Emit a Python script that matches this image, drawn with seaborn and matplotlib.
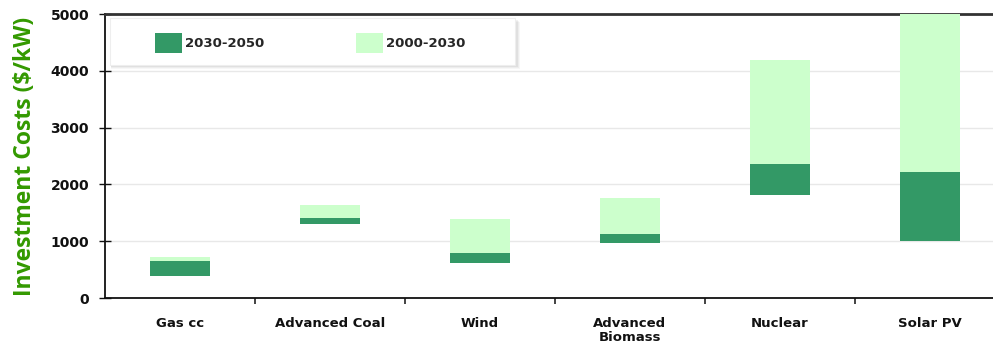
import matplotlib
matplotlib.use("Agg")
import matplotlib.pyplot as plt
from matplotlib.patches import Patch, Rectangle
import seaborn as sns
import pandas as pd
import numpy as np

# Investment cost ranges ($/kW) per technology
technologies = ["Gas cc", "Advanced Coal", "Wind", "Advanced\nBiomass", "Nuclear", "Solar PV"]
cost_low = [390, 1310, 620, 960, 1820, 1010]        # bottom of the 2030-2050 range
cost_mid = [650, 1410, 790, 1130, 2360, 2220]       # top of 2030-2050 / bottom of 2000-2030
cost_high = [720, 1640, 1390, 1760, 4190, 5000]     # top of the 2000-2030 range
yticks = [0, 1000, 2000, 3000, 4000, 5000]

dark = "#339966"
light = "#ccffcc"

df = pd.DataFrame({
    "tech": technologies,
    "low": cost_low,
    "mid": cost_mid,
    "high": cost_high,
})
df["span_late"] = df["mid"] - df["low"]
df["span_early"] = df["high"] - df["mid"]

sns.set_theme(style="white")
plt.rcParams["font.family"] = ["DejaVu Sans"]

fig = plt.figure(figsize=(9.93, 3.47), dpi=100)
ax = fig.add_axes([105 / 993, 49 / 347, 900 / 993, 284 / 347])

sns.barplot(data=df, x="tech", y="span_late", bottom=df["low"].to_numpy(),
            color=dark, saturation=1, width=0.4, errorbar=None, ax=ax,
            linewidth=0, zorder=3)
sns.barplot(data=df, x="tech", y="span_early", bottom=df["mid"].to_numpy(),
            color=light, saturation=1, width=0.4, errorbar=None, ax=ax,
            linewidth=0, zorder=3)

ax.set_xlim(-0.5, len(technologies) - 0.5)
ax.set_ylim(0, 5000)
ax.set_yticks(yticks)
ax.set_yticklabels([str(v) for v in yticks], fontsize=10, fontweight="bold", color="#111111")
ax.yaxis.grid(True, color="#e8e8e8", linewidth=1, zorder=0)
ax.tick_params(axis="y", direction="inout", length=9, width=1, color="#111111", pad=7, left=True)

ax.set_xticks(range(len(technologies)))
ax.set_xticklabels(technologies, fontsize=9.5, fontweight="bold", color="#111111", linespacing=1.1)
ax.tick_params(axis="x", which="major", length=0, pad=14)
ax.set_xticks(np.arange(0.5, len(technologies) - 0.5, 1), minor=True)
ax.tick_params(axis="x", which="minor", direction="out", length=4, width=1.2, color="#222222", bottom=True)
ax.set_xlabel("")

ax.set_ylabel("Investment Costs ($/kW)", fontsize=16.5, fontweight="bold",
              color="#339900", family=["Open Sans", "DejaVu Sans"], labelpad=10)

for side in ["left", "bottom"]:
    ax.spines[side].set_color("#111111")
    ax.spines[side].set_linewidth(1.3)
ax.spines["top"].set_color("#333333")
ax.spines["top"].set_linewidth(2)
ax.spines["right"].set_visible(False)

# Legend panel with a soft drop shadow
box_x0, box_x1 = 5 / 900, 410 / 900
box_y0, box_y1 = 233 / 284, 280 / 284
for i, a in enumerate([0.03, 0.04, 0.05, 0.06]):
    off = (4 - i) / 900, (4 - i) / 284
    ax.add_patch(Rectangle((box_x0 + off[0] * 0.3, box_y0 - off[1]),
                           box_x1 - box_x0 + off[0], box_y1 - box_y0,
                           transform=ax.transAxes, facecolor="black", alpha=a,
                           edgecolor="none", zorder=4, clip_on=False))
ax.add_patch(Rectangle((box_x0, box_y0), box_x1 - box_x0, box_y1 - box_y0,
                       transform=ax.transAxes, facecolor="white",
                       edgecolor="#eeeeee", linewidth=0.8, zorder=4.5))

handles = [Patch(facecolor=dark, edgecolor="none", label="2030-2050"),
           Patch(facecolor=light, edgecolor="none", label="2000-2030")]
leg = ax.legend(handles=handles, loc="center left", bbox_to_anchor=(50 / 900, 255 / 284),
                ncol=2, frameon=False,
                prop={"weight": "bold", "size": 9.5},
                handlelength=2.05, handleheight=2.0, handletextpad=0.2,
                columnspacing=7.0, borderpad=0, borderaxespad=0)
leg.set_zorder(5)

fig.savefig("out.png", dpi=100)
